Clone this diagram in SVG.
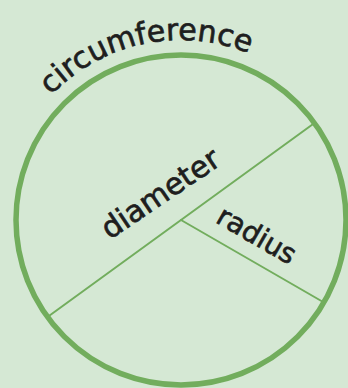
<svg xmlns="http://www.w3.org/2000/svg" width="348" height="388" viewBox="0 0 348 388">
<style>
.lbl{font-family:"DejaVu Sans","Liberation Sans",sans-serif;fill:#1e1e1e;stroke:#1e1e1e;stroke-width:0.7;}
.ln{stroke:#72ad5d;fill:none;stroke-linecap:round;}
</style>
<defs>
<path id="arc" d="M 25.1 130 A 180 180 0 0 1 286.8 74.4"/>
</defs>
<rect x="0" y="0" width="348" height="388" fill="#d5e8d4"/>
<g id="connectors">
<line class="ln" x1="314.5" y1="123" x2="47.5" y2="317" stroke-width="2"/>
<line class="ln" x1="181" y1="220" x2="324" y2="302.5" stroke-width="2"/>
</g>
<g id="circle">
<circle class="ln" cx="181" cy="220" r="165" stroke-width="5.5"/>
<text class="lbl" font-size="30"><textPath href="#arc" startOffset="50%" text-anchor="middle">circumference</textPath></text>
</g>
<g id="diameter">
<text class="lbl" font-size="30" text-anchor="middle" transform="translate(166 202) rotate(-34)">diameter</text>
</g>
<g id="radius">
<text class="lbl" font-size="28" text-anchor="middle" transform="translate(252 243.5) rotate(30)">radius</text>
</g>
</svg>
